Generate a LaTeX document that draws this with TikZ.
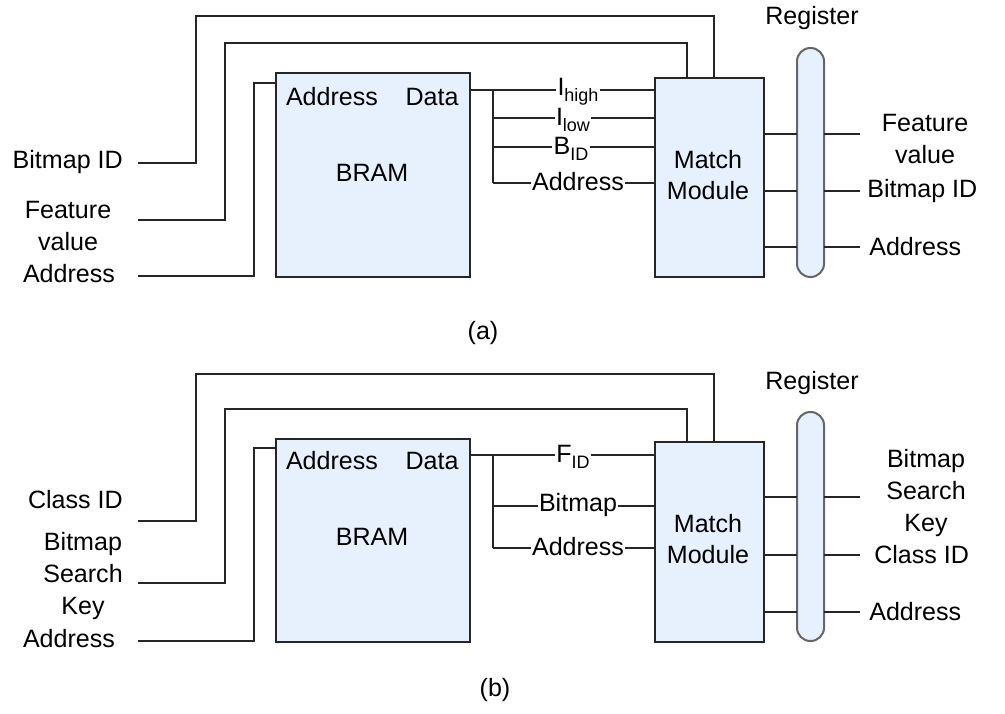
\documentclass[tikz,border=0pt]{standalone}
\usepackage{fontspec}
\setmainfont{Liberation Sans}
\definecolor{boxfill}{RGB}{231,241,253}
\begin{document}
\begin{tikzpicture}[x=0.75pt,y=-0.75pt,
  font=\fontsize{18.8}{22}\selectfont,
  wire/.style={line width=1.3pt,draw=black!85},
  block/.style={draw=black!85,line width=1.5pt,fill=boxfill,inner sep=0pt},
  reg/.style={draw=black!60,line width=1.5pt,fill=boxfill,rounded corners=10pt},
  tag/.style={fill=white,inner sep=1pt},
  lbl/.style={inner sep=0pt,align=center}]
\useasboundingbox (0,0) rectangle (1005,713);
\newcommand{\sbs}[1]{\raisebox{-0.45ex}{\fontsize{13.5}{14}\selectfont #1}}

% ---------------- panel (a) ----------------
\begin{scope}
  \node[block,minimum width=145.5pt,minimum height=153pt,anchor=north west] (bramA) at (275,72) {};
  \node[block,minimum width=81.75pt,minimum height=149.25pt,anchor=north west] (mmA) at (654,77) {};
  \node[lbl] at (332,97) {Address};
  \node[lbl] at (432,97) {Data};
  \node[lbl] at (372,173) {BRAM};
  \node[lbl] at (708,175) {Match\\[1pt]Module};
  \filldraw[reg] (797,48) rectangle (824,277);
  \node[lbl] (regA) at (812,18) {Register};

  % inputs on the left
  \node[lbl,anchor=east] (inA1) at (123,162) {Bitmap ID};
  \node[lbl] (inA2) at (68,226) {Feature\\[2pt]value};
  \node[lbl] (inA3) at (69,274) {Address};
  \coordinate (a1) at (138,163);
  \coordinate (a2) at (138,220);
  \coordinate (a3) at (138,276);
  \draw[wire] (a1) -- (196,163) -- (196,16) -- (714,16) -- (714,77);
  \draw[wire] (a2) -- (225,220) -- (225,43) -- (687,43) -- (687,77);
  \draw[wire] (a3) -- (254,276) -- (254,83) -- (275,83);

  % data fan-out into the match module
  \draw[wire] (469,90) -- (654,90);
  \draw[wire] (493,90) -- (493,183);
  \draw[wire] (493,118) -- (654,118);
  \draw[wire] (493,147) -- (654,147);
  \draw[wire] (493,183) -- (654,183);
  \node[tag] at (578,92) {I\sbs{high}};
  \node[tag] at (573,120) {I\sbs{low}};
  \node[tag] at (571,149) {B\sbs{ID}};
  \node[tag] at (578,182) {Address};

  % outputs through the register
  \foreach \yy in {134,191,247} {
    \draw[wire] (763,\yy) -- (797,\yy);
    \draw[wire] (824,\yy) -- (860,\yy);
  }
  \node[lbl] (outA1) at (925,139) {Feature\\[2pt]value};
  \node[lbl,anchor=west] (outA2) at (867,191) {Bitmap ID};
  \node[lbl,anchor=west] (outA3) at (869,247) {Address};

  \node[lbl] (capA) at (483,333) {(a)};
\end{scope}

% ---------------- panel (b) ----------------
\begin{scope}
  \node[block,minimum width=145.5pt,minimum height=152.25pt,anchor=north west] (bramB) at (275,438) {};
  \node[block,minimum width=81.75pt,minimum height=150pt,anchor=north west] (mmB) at (654,441) {};
  \node[lbl] at (332,461) {Address};
  \node[lbl] at (432,461) {Data};
  \node[lbl] at (372,537) {BRAM};
  \node[lbl] at (708,539) {Match\\[1pt]Module};
  \filldraw[reg] (797,412) rectangle (824,641);
  \node[lbl] (regB) at (812,383) {Register};

  % inputs on the left
  \node[lbl,anchor=east] (inB1) at (123,500) {Class ID};
  \node[lbl] (inB2) at (83,576) {Bitmap\\[2pt]Search\\[2pt]Key};
  \node[lbl] (inB3) at (69,639) {Address};
  \coordinate (b1) at (138,521);
  \coordinate (b2) at (138,583);
  \coordinate (b3) at (138,641);
  \draw[wire] (b1) -- (196,521) -- (196,374) -- (714,374) -- (714,441);
  \draw[wire] (b2) -- (225,583) -- (225,409) -- (687,409) -- (687,441);
  \draw[wire] (b3) -- (254,641) -- (254,448) -- (275,448);

  % data fan-out into the match module
  \draw[wire] (469,455) -- (654,455);
  \draw[wire] (493,455) -- (493,548);
  \draw[wire] (493,506) -- (654,506);
  \draw[wire] (493,548) -- (654,548);
  \node[tag] at (573,457) {F\sbs{ID}};
  \node[tag] at (578,505) {Bitmap};
  \node[tag] at (578,547) {Address};

  % outputs through the register
  \foreach \yy in {497,555,612} {
    \draw[wire] (763,\yy) -- (797,\yy);
    \draw[wire] (824,\yy) -- (860,\yy);
  }
  \node[lbl] (outB1) at (926,493) {Bitmap\\[2pt]Search\\[2pt]Key};
  \node[lbl,anchor=west] (outB2) at (874,555) {Class ID};
  \node[lbl,anchor=west] (outB3) at (869,612) {Address};

  \node[lbl] (capB) at (495,690) {(b)};
\end{scope}
\end{tikzpicture}
\end{document}
